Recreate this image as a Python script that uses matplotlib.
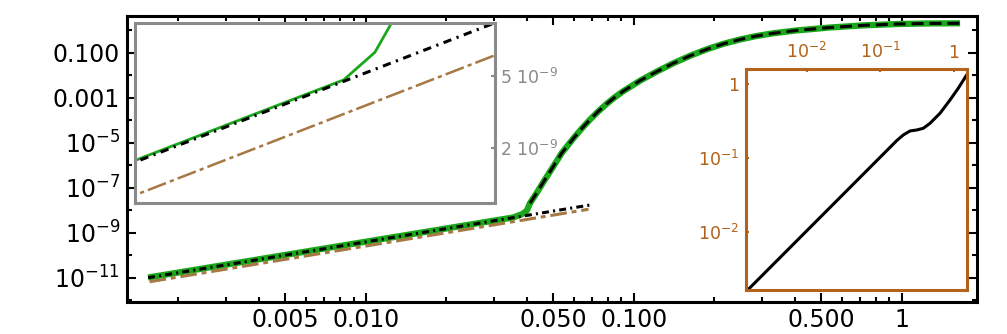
import matplotlib
matplotlib.use('Agg')
import matplotlib.pyplot as plt
from matplotlib.ticker import FixedLocator, FixedFormatter, NullLocator, NullFormatter

plt.rcParams['font.family'] = ['DejaVu Sans']
plt.rcParams['mathtext.fontset'] = 'dejavusans'
plt.rcParams['mathtext.default'] = 'regular'
plt.rcParams['lines.scale_dashes'] = False

# --- data ---
# full curve (green)
full_x = [0.00154, 0.0292, 0.0355, 0.0384, 0.0399, 0.0410, 0.0435, 0.0460,
          0.0501, 0.0538, 0.0596, 0.0640, 0.0687, 0.0738, 0.0793, 0.0851,
          0.0914, 0.1057, 0.1219, 0.1406, 0.1622, 0.1871, 0.2158, 0.2489,
          0.2871, 0.3311, 0.4055, 0.5395, 0.7194, 0.9572, 1.274, 1.652]
full_y = [1.02e-11, 3.25e-9, 4.75e-9, 6.75e-9, 9.5e-9, 2.04e-8, 6.0e-8,
          1.78e-7, 8.8e-7, 3.39e-6, 1.58e-5, 4.29e-5, 1.07e-4, 2.49e-4,
          5.37e-4, 1.06e-3, 1.95e-3, 5.75e-3, 0.01445, 0.0340, 0.0726,
          0.141, 0.246, 0.385, 0.551, 0.728, 0.977, 1.318, 1.637, 1.879,
          2.000, 2.028]
# large-x approximation (black dashed), same points from the knee on
approx_x = full_x[5:]
approx_y = full_y[5:]
# small-x power laws
small_x = [0.00154, 0.0687]
small_y = [1.0e-11, 1.7e-8]
lead_x = [0.00156, 0.0678]
lead_y = [6.6e-12, 1.1e-8]
# ratio shown in the right inset
ratio_x = [0.00161, 0.167, 0.205, 0.253, 0.311, 0.383, 0.472, 0.646,
           0.883, 1.143, 1.486]
ratio_y = [0.00165, 0.171, 0.204, 0.231, 0.238, 0.251, 0.293, 0.401,
           0.607, 0.875, 1.324]

# tick positions / labels
x_major = [0.005, 0.01, 0.05, 0.1, 0.5, 1]
x_major_labels = ['0.005', '0.010', '0.050', '0.100', '0.500', '1']
x_minor = [0.002, 0.003, 0.004, 0.006, 0.007, 0.008, 0.009,
           0.02, 0.03, 0.04, 0.06, 0.07, 0.08, 0.09,
           0.2, 0.3, 0.4, 0.6, 0.7, 0.8, 0.9]
y_major = [1e-11, 1e-9, 1e-7, 1e-5, 1e-3, 1e-1]
y_major_labels = ['10$^{-11}$', '10$^{-9}$', '10$^{-7}$', '10$^{-5}$',
                  '0.001', '0.100']
y_minor = [1e-12, 1e-10, 1e-8, 1e-6, 1e-4, 1e-2, 1]
zoom_ticks = [2e-9, 5e-9]
zoom_labels = ['2 10$^{-9}$', '5 10$^{-9}$']
ratio_ticks = [0.01, 0.1, 1]
ratio_labels = ['10$^{-2}$', '10$^{-1}$', '1']

green = '#1aa81a'
brown = '#a67843'
gray = '#8a8a8a'
orange = '#b2621a'

dash = (0, (8.6, 4.3))
dashdot = (0, (5.0, 3.0, 1.5, 3.0))
longdashdot = (0, (12.0, 3.5, 3.5, 3.5))

fig = plt.figure(figsize=(10.07, 3.34), dpi=100)

# main panel
ax = fig.add_axes([0.1261, 0.0958, 0.8441, 0.8563])
ax.set_xscale('log')
ax.set_yscale('log')
ax.plot(full_x, full_y, color=green, lw=4.5, solid_capstyle='butt',
        solid_joinstyle='round')
ax.plot(small_x, small_y, color='black', lw=2.2, linestyle=dashdot)
ax.plot(lead_x, lead_y, color=brown, lw=2.2, linestyle=longdashdot)
ax.plot(approx_x, approx_y, color='black', lw=2.2, linestyle=dash)
ax.set_xlim(0.001285, 1.91)
ax.set_ylim(10 ** -12.08, 10 ** 0.631)

ax.xaxis.set_major_locator(FixedLocator(x_major))
ax.xaxis.set_major_formatter(FixedFormatter(x_major_labels))
ax.xaxis.set_minor_locator(FixedLocator(x_minor))
ax.xaxis.set_minor_formatter(NullFormatter())
ax.yaxis.set_major_locator(FixedLocator(y_major))
ax.yaxis.set_major_formatter(FixedFormatter(y_major_labels))
ax.yaxis.set_minor_locator(FixedLocator(y_minor))
ax.yaxis.set_minor_formatter(NullFormatter())
ax.tick_params(which='both', direction='in', top=True, right=True,
               width=1.5, labelsize=17)
ax.tick_params(which='major', length=6.5)
ax.tick_params(which='minor', length=3.5)
ax.tick_params(axis='y', pad=5)
ax.tick_params(axis='x', pad=4)
for s in ax.spines.values():
    s.set_linewidth(2.2)

# zoomed inset (gray frame)
ax1 = fig.add_axes([0.1341, 0.3931, 0.3575, 0.5371])
ax1.set_xscale('log')
ax1.set_yscale('log')
ax1.plot(full_x, full_y, color=green, lw=2.0)
ax1.plot(small_x, small_y, color='black', lw=2.2,
         linestyle=(0, (6.0, 4.0, 1.6, 4.0)))
ax1.plot(lead_x, lead_y, color=brown, lw=1.8,
         linestyle=(0, (14.0, 3.0, 3.0, 3.0)))
ax1.set_xlim(0.02104, 0.0519)
ax1.set_ylim(1e-9, 9.75e-9)
ax1.xaxis.set_major_locator(NullLocator())
ax1.xaxis.set_minor_locator(NullLocator())
ax1.yaxis.tick_right()
ax1.yaxis.set_major_locator(FixedLocator(zoom_ticks))
ax1.yaxis.set_major_formatter(FixedFormatter(zoom_labels))
ax1.yaxis.set_minor_locator(NullLocator())
ax1.tick_params(axis='y', direction='in', length=3, width=1.5,
                color=gray, labelcolor=gray, labelsize=12.5, pad=3.5)
for s in ax1.spines.values():
    s.set_linewidth(2.2)
    s.set_color(gray)

# ratio inset (orange frame)
ax2 = fig.add_axes([0.7408, 0.1317, 0.2198, 0.6608])
ax2.set_xscale('log')
ax2.set_yscale('log')
ax2.plot(ratio_x, ratio_y, color='black', lw=2.2, solid_joinstyle='round')
ax2.set_xlim(0.0015, 1.517)
ax2.set_ylim(0.00162, 1.58)
ax2.xaxis.tick_top()
ax2.xaxis.set_major_locator(FixedLocator(ratio_ticks))
ax2.xaxis.set_major_formatter(FixedFormatter(ratio_labels))
ax2.xaxis.set_minor_locator(NullLocator())
ax2.yaxis.set_major_locator(FixedLocator(ratio_ticks))
ax2.yaxis.set_major_formatter(FixedFormatter(ratio_labels))
ax2.yaxis.set_minor_locator(NullLocator())
ax2.tick_params(which='both', direction='in', length=2.5, width=1.5,
                color=orange, labelcolor=orange, labelsize=12.5, pad=5)
for s in ax2.spines.values():
    s.set_linewidth(2.2)
    s.set_color(orange)

fig.savefig('out.png', dpi=100)
